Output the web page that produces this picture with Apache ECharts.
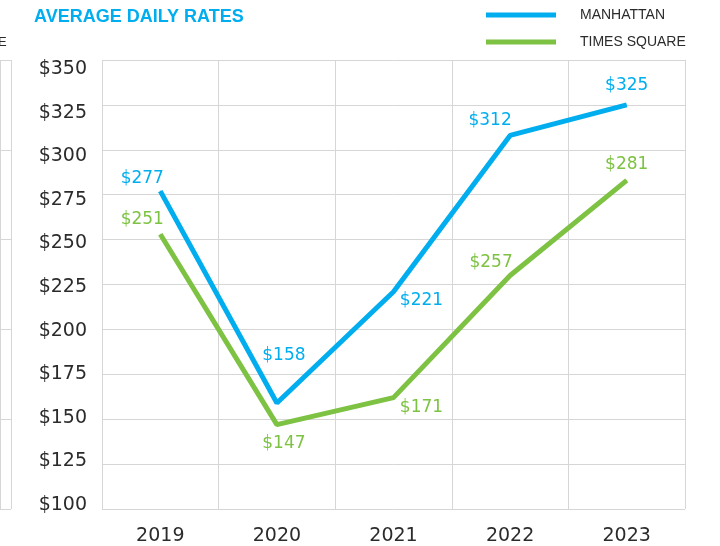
<!DOCTYPE html>
<html>
<head>
<meta charset="utf-8">
<script src="https://cdn.jsdelivr.net/npm/echarts@6/dist/echarts.min.js"></script>
<style>
html, body { margin: 0; padding: 0; background: #fff; }
#rates { width: 720px; height: 546px; }
</style>
</head>
<body>
<div id="rates"></div>
<script>
// data
var years = ['2019', '2020', '2021', '2022', '2023'];
var manhattan = [277, 159, 221, 308, 325];
var timesSquare = [253, 147, 162, 230, 283];
var manhattanLabels = ['$277', '$158', '$221', '$312', '$325'];
var timesSquareLabels = ['$251', '$147', '$171', '$257', '$281'];
var yMin = 100, yMax = 350, yStep = 25;

var blue = '#00AEEF';
var green = '#7DC242';
var txt = '#2b2b2b';
var gridColor = '#d6d6d6';
var numFont = '"DejaVu Sans", sans-serif';

// label placement per point (px from the point)
var blueOffsets = [[-18, -13], [7, -47], [28, 9], [-20, -15], [0, -19]];
var greenOffsets = [[-18, -15], [7, 19], [28, 10], [-19, -13], [0, -16]];

function buildData(values, labels, offsets, color) {
  return values.map(function (v, i) {
    return {
      value: v,
      label: {
        show: true,
        position: 'inside',
        offset: offsets[i],
        formatter: labels[i],
        color: color,
        fontSize: 17,
        fontFamily: numFont
      }
    };
  });
}

var chart = echarts.init(document.getElementById('rates'));

var option = {
  backgroundColor: '#fff',
  animation: false,
  title: {
    text: 'AVERAGE DAILY RATES',
    left: 34,
    top: 8,
    padding: 0,
    textStyle: {
      color: blue,
      fontSize: 18,
      fontWeight: 'bold',
      fontFamily: '"Liberation Sans", Arial, sans-serif'
    }
  },
  legend: {
    orient: 'vertical',
    left: 486,
    top: 8,
    padding: 0,
    icon: 'rect',
    itemWidth: 70,
    itemHeight: 5,
    itemGap: 13,
    textStyle: {
      color: txt,
      fontSize: 14,
      lineHeight: 14,
      padding: [0, 0, 0, 19],
      fontFamily: '"Liberation Sans", Arial, sans-serif'
    },
    data: ['MANHATTAN', 'TIMES SQUARE']
  },
  // left strip of the neighbouring chart
  graphic: [{
    type: 'text',
    left: -2,
    top: 36,
    style: { text: 'E', fill: txt, fontSize: 13, fontFamily: '"Liberation Sans", Arial, sans-serif' }
  }],
  grid: [
    { left: 102, right: 35, top: 60, bottom: 37 },
    { left: -20, width: 31, top: 60, bottom: 37 },
    { left: 102, right: 35, top: 69, bottom: 41 }
  ],
  xAxis: [
    {
      gridIndex: 0,
      type: 'category',
      data: years,
      boundaryGap: true,
      axisLine: { show: false },
      axisTick: { show: false },
      axisLabel: { color: txt, fontSize: 19, margin: 18, fontFamily: numFont },
      splitLine: { show: true, interval: 0, lineStyle: { color: gridColor } }
    },
    {
      gridIndex: 1,
      type: 'category',
      data: [''],
      boundaryGap: true,
      axisLine: { show: false },
      axisTick: { show: false },
      axisLabel: { show: false },
      splitLine: { show: true, lineStyle: { color: gridColor } }
    },
    {
      gridIndex: 2,
      type: 'category',
      data: years,
      show: false
    }
  ],
  yAxis: [
    {
      gridIndex: 0,
      type: 'value',
      min: yMin,
      max: yMax,
      interval: yStep,
      axisLine: { show: false },
      axisTick: { show: false },
      axisLabel: { show: false },
      splitLine: { lineStyle: { color: gridColor } }
    },
    {
      gridIndex: 1,
      type: 'value',
      min: yMin,
      max: yMax,
      interval: 50,
      axisLine: { show: false },
      axisTick: { show: false },
      axisLabel: { show: false },
      splitLine: { lineStyle: { color: gridColor } }
    },
    {
      // tick labels sit on a slightly tighter scale than the gridlines
      gridIndex: 2,
      type: 'value',
      min: yMin,
      max: yMax,
      interval: yStep,
      axisLine: { show: false },
      axisTick: { show: false },
      splitLine: { show: false },
      axisLabel: {
        color: txt,
        fontSize: 19,
        margin: 15,
        fontFamily: numFont,
        formatter: '${value}'
      }
    }
  ],
  series: [
    {
      name: 'MANHATTAN',
      type: 'line',
      xAxisIndex: 0,
      yAxisIndex: 0,
      symbol: 'circle',
      symbolSize: 1,
      itemStyle: { color: blue },
      lineStyle: { color: blue, width: 5 },
      data: buildData(manhattan, manhattanLabels, blueOffsets, blue)
    },
    {
      name: 'TIMES SQUARE',
      type: 'line',
      xAxisIndex: 0,
      yAxisIndex: 0,
      symbol: 'circle',
      symbolSize: 1,
      itemStyle: { color: green },
      lineStyle: { color: green, width: 5 },
      data: buildData(timesSquare, timesSquareLabels, greenOffsets, green)
    }
  ]
};
chart.setOption(option);
</script>
</body>
</html>
